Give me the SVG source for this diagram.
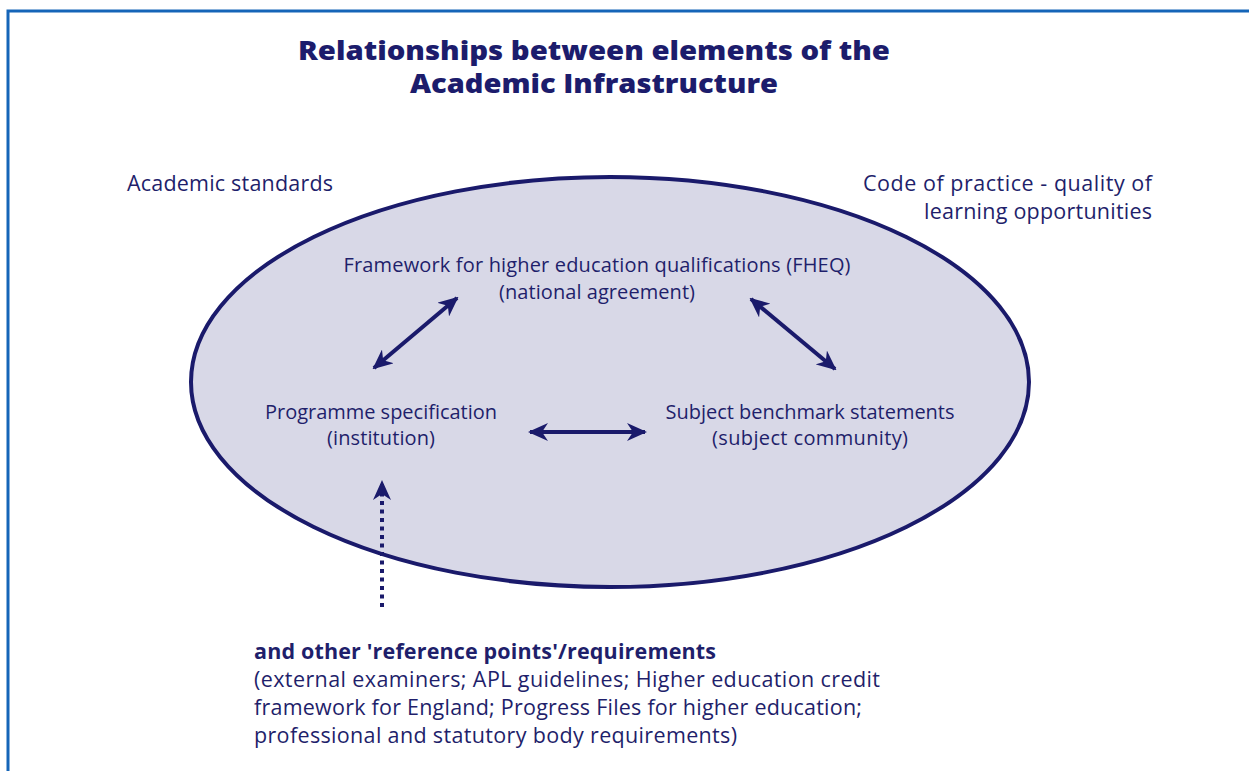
<svg xmlns="http://www.w3.org/2000/svg" width="1249" height="771" viewBox="0 0 1249 771">
<style>
text{font-family:"Open Sans","Liberation Sans",sans-serif;fill:#1f1f6b;}
.t{font-size:26px;font-weight:800;text-anchor:middle;fill:#1c1c6c;}
.l{font-size:20px;}
.o{font-size:21.5px;}
.m{text-anchor:middle;}
.r{text-anchor:end;}
.b{font-weight:bold;}
.c{stroke:#1a1a6b;stroke-width:4;fill:none;}
</style>
<defs>
<marker id="ah" viewBox="0 0 20 18" refX="18" refY="9" markerWidth="20" markerHeight="18" markerUnits="userSpaceOnUse" orient="auto-start-reverse">
<path d="M0,0 L20,9 L0,18 L6,9 Z" fill="#1a1a6b"/>
</marker>
</defs>
<rect width="1249" height="771" fill="#fff"/>
<path d="M8,771 V11 H1249" fill="none" stroke="#1565b8" stroke-width="3"/>
<g id="title">
<text class="t" x="594" y="60" textLength="592" lengthAdjust="spacingAndGlyphs">Relationships between elements of the</text>
<text class="t" x="594" y="93" textLength="368" lengthAdjust="spacingAndGlyphs">Academic Infrastructure</text>
</g>
<g id="ellipse">
<ellipse cx="610" cy="382" rx="419" ry="205" fill="#d8d8e7" stroke="#1a1a6b" stroke-width="4"/>
</g>
<g id="academic-standards"><text class="o" x="127" y="191" textLength="206">Academic standards</text></g>
<g id="code-of-practice">
<text class="o r" x="1152" y="191" textLength="289">Code of practice - quality of</text>
<text class="o r" x="1152" y="219" textLength="228">learning opportunities</text>
</g>
<g id="fheq">
<text class="l m" x="597" y="272" textLength="507">Framework for higher education qualifications (FHEQ)</text>
<text class="l m" x="597" y="299" textLength="196">(national agreement)</text>
</g>
<g id="programme">
<text class="l m" x="381" y="419" textLength="232">Programme specification</text>
<text class="l m" x="381" y="445" textLength="108">(institution)</text>
</g>
<g id="subject">
<text class="l m" x="810" y="419" textLength="289">Subject benchmark statements</text>
<text class="l m" x="810" y="445" textLength="196">(subject community)</text>
</g>
<g id="reference">
<text class="o b" x="254" y="659" textLength="462">and other 'reference points'/requirements</text>
<text class="o" x="254" y="687" textLength="626">(external examiners; APL guidelines; Higher education credit</text>
<text class="o" x="254" y="715" textLength="608">framework for England; Progress Files for higher education;</text>
<text class="o" x="254" y="743" textLength="483">professional and statutory body requirements)</text>
</g>
<g id="connectors">
<line class="c" x1="374" y1="368" x2="457" y2="298" marker-start="url(#ah)" marker-end="url(#ah)"/>
<line class="c" x1="751" y1="299" x2="835" y2="369" marker-start="url(#ah)" marker-end="url(#ah)"/>
<line class="c" x1="530" y1="432" x2="645" y2="432" marker-start="url(#ah)" marker-end="url(#ah)"/>
<line class="c" x1="382" y1="607" x2="382" y2="482" stroke-dasharray="4,4.5" marker-end="url(#ah)"/>
</g>
</svg>
